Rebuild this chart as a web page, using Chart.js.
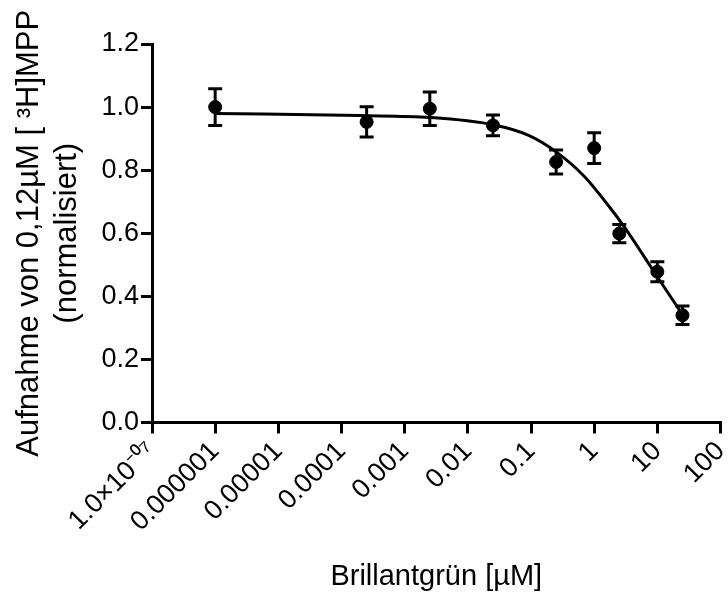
<!DOCTYPE html>
<html>
<head>
<meta charset="utf-8">
<script src="https://cdn.jsdelivr.net/npm/chart.js@4"></script>
<style>
  body { margin: 0; background: #fff; }
  #wrap { width: 728px; height: 598px; }
</style>
</head>
<body>
<div id="wrap"><canvas id="uptake" width="728" height="598"></canvas></div>
<script>
// Brilliant green concentration (µM) and normalised uptake (mean ± SEM)
const conc = [1e-6, 2.5e-4, 2.5e-3, 2.5e-2, 0.25, 1, 2.5, 10, 25];
const uptake = [1.00, 0.953, 0.995, 0.942, 0.826, 0.870, 0.599, 0.478, 0.340];
const sem = [0.058, 0.048, 0.053, 0.033, 0.038, 0.049, 0.029, 0.032, 0.029];

// fitted curve
const fitConc = [1e-6, 2e-4, 2.5e-3, 0.025, 0.09, 0.25, 0.7, 1.8, 3, 10, 25];
const fitUptake = [0.980, 0.973, 0.967, 0.944, 0.911, 0.858, 0.780, 0.680, 0.620, 0.462, 0.342];

// axis ticks
const xTicks = [1e-7, 1e-6, 1e-5, 1e-4, 1e-3, 1e-2, 0.1, 1, 10, 100];
const xTickLabels = ['1.0×10⁻⁰⁷', '0.000001', '0.00001', '0.0001', '0.001', '0.01', '0.1', '1', '10', '100'];

const FONT = 'Liberation Sans, Arial, sans-serif';

/*
 * Draw the SEM error bars with caps
 */
const errorBars = {
    id: 'errorBars',
    afterDatasetsDraw(chart) {
        const ctx = chart.ctx;
        const x = chart.scales.x, y = chart.scales.y;
        ctx.save();
        ctx.strokeStyle = '#000';
        ctx.lineWidth = 3;
        for (let i = 0; i < conc.length; i++) {
            const px = x.getPixelForValue(conc[i]);
            const top = y.getPixelForValue(uptake[i] + sem[i]);
            const bot = y.getPixelForValue(uptake[i] - sem[i]);
            ctx.beginPath();
            ctx.moveTo(px, top); ctx.lineTo(px, bot);
            ctx.moveTo(px - 7, top); ctx.lineTo(px + 7, top);
            ctx.moveTo(px - 7, bot); ctx.lineTo(px + 7, bot);
            ctx.stroke();
        }
        ctx.restore();
    }
};

const ctx = document.getElementById('uptake').getContext('2d');
const chart = new Chart(ctx, {
    type: 'scatter',
    data: {
        datasets: [{
            data: conc.map((c, i) => ({x: c, y: uptake[i]})),
            backgroundColor: '#000',
            borderColor: '#000',
            pointRadius: 6.5,
            order: 0
        }, {
            type: 'line',
            data: fitConc.map((c, i) => ({x: c, y: fitUptake[i]})),
            borderColor: '#000',
            borderWidth: 3,
            pointRadius: 0,
            fill: false,
            cubicInterpolationMode: 'monotone',
            order: 1
        }]
    },
    options: {
        responsive: false,
        animation: false,
        devicePixelRatio: 1,
        layout: {
            padding: {top: 44, right: 5, bottom: 0, left: 0}
        },
        plugins: {
            legend: { display: false },
            tooltip: { enabled: false }
        },
        scales: {
            x: {
                type: 'logarithmic',
                min: 1e-7,
                max: 100,
                afterBuildTicks: (scale) => {
                    scale.ticks = xTicks.map(v => ({value: v}));
                },
                afterFit: (scale) => {
                    scale.height = 175.5;
                    scale.paddingRight = 0; // keep the 100 tick near the edge
                },
                border: { display: true, color: '#000', width: 3 },
                grid: { drawOnChartArea: false, drawTicks: true, tickLength: 11, color: '#000', lineWidth: 3 },
                ticks: {
                    autoSkip: false,
                    minRotation: 45,
                    maxRotation: 45,
                    padding: 2,
                    color: '#000',
                    font: { family: FONT, size: 27 },
                    callback: (value, index) => xTickLabels[index]
                },
                title: {
                    display: true,
                    text: 'Brillantgrün [µM]',
                    color: '#000',
                    font: { family: FONT, size: 29 },
                    padding: { top: 0, bottom: 4 }
                }
            },
            y: {
                min: 0,
                max: 1.2,
                afterFit: (scale) => { scale.width = 152; },
                border: { display: true, color: '#000', width: 3 },
                grid: { drawOnChartArea: false, drawTicks: true, tickLength: 11, color: '#000', lineWidth: 3 },
                ticks: {
                    stepSize: 0.2,
                    padding: 2,
                    color: '#000',
                    font: { family: FONT, size: 27 },
                    callback: (value) => value.toFixed(1)
                },
                title: {
                    display: true,
                    text: ['Aufnahme von 0,12µM [ ³H]MPP', '(normalisiert)'],
                    color: '#000',
                    font: { family: FONT, size: 31, lineHeight: 1.23 },
                    padding: { top: 10, bottom: 0 }
                }
            }
        }
    },
    plugins: [errorBars]
});
</script>
</body>
</html>
